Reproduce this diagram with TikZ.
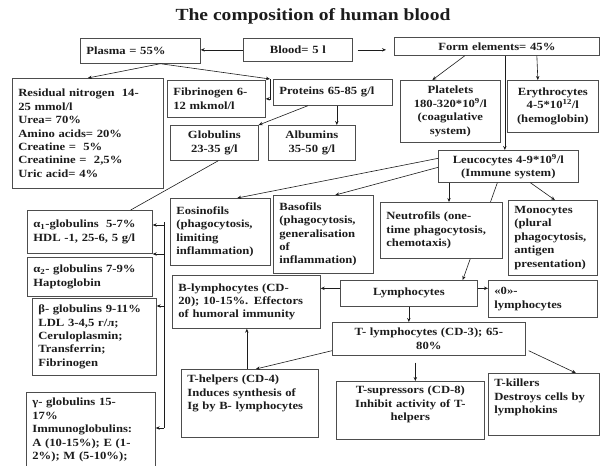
\documentclass[tikz,border=0pt]{standalone}
\usepackage{fontspec}
\setmainfont{Liberation Serif}[FakeStretch=1.15]
\usetikzlibrary{arrows.meta}
\definecolor{ink}{HTML}{1C1C1C}
\definecolor{frame}{HTML}{4D4D4D}
\newcommand{\bodyfont}{\fontsize{11}{13.4}\selectfont\bfseries}
\newcommand{\titlefont}{\fontsize{17}{19}\selectfont\bfseries}
\tikzset{
  every node/.style={font=\bodyfont,text=ink},
  cell/.style 2 args={draw=frame,line width=.7pt,fill=white,anchor=north west,
    inner xsep=6pt,inner ysep=3pt,align=left,text width=#1pt,minimum height=#2pt},
  title/.style={font=\titlefont},
  link/.style={draw=ink,line width=.6pt},
  arr/.style={link,-{Stealth[length=4pt,width=3.4pt]}}
}
\begin{document}
\begin{tikzpicture}[x=1pt,y=-1pt]
\useasboundingbox (0,0) rectangle (600,466);
\clip (0,0) rectangle (600,466);

\node[title] (head) at (313,16) {The composition of human blood};

% blood, plasma and form elements
\node[cell={108}{25}] (plasma) at (80,38) {Plasma = 55\%};
\node[cell={97}{23},align=center] (blood) at (243,38) {Blood= 5 l};
\node[cell={193}{18},align=center] (form) at (394,37) {Form elements= 45\%};

% plasma parts
\node[cell={139}{110}] (resid) at (12,78) {Residual nitrogen~ 14-\\25 mmol/l\\Urea= 70\%\\Amino acids= 20\%\\Creatine =~ 5\%\\Creatinine =~ 2,5\%\\Uric acid= 4\%};
\node[cell={86}{37}] (fibr) at (167,80) {Fibrinogen 6-\\12 mkmol/l};
\node[cell={107}{26}] (prot) at (273,79) {Proteins 65-85 g/l};
\node[cell={76}{35},align=center] (glob) at (170,125) {Globulins\\23-35 g/l};
\node[cell={75}{35},align=center] (alb) at (268,125) {Albumins\\35-50 g/l};

% cells
\node[cell={88}{62},align=center] (plat) at (400,80) {Platelets\\180-320*10\textsuperscript{9}/l\\(coagulative\\system)};
\node[cell={79}{52},align=center] (eryth) at (507,80) {Erythrocytes\\4-5*10\textsuperscript{12}/l\\(hemoglobin)};
\node[cell={128}{32},align=center] (leuc) at (438,150) {Leucocytes 4-9*10\textsuperscript{9}/l\\(Immune system)};

% globulin fractions
\node[cell={113}{43}] (ga1) at (27,210) {α\textsubscript{1}-globulins~ 5-7\%\\HDL -1, 25-6, 5 g/l};
\node[cell={113}{39}] (ga2) at (27,257) {α\textsubscript{2}- globulins 7-9\%\\Haptoglobin};
\node[cell={112}{77}] (gb) at (32,298) {β- globulins 9-11\%\\LDL 3-4,5 г/л;\\Ceruloplasmin;\\Transferrin;\\Fibrinogen};
\node[cell={117}{0},inner ysep=6pt,text depth=80pt] (gg) at (26,392) {γ- globulins 15-\\17\%\\Immunoglobulins:\\A (10-15\%); E (1-\\2\%); M (5-10\%);};

% leucocyte kinds
\node[cell={88}{67}] (eos) at (170,198) {Eosinofils\\(phagocytosis,\\limiting\\inflammation)};
\node[cell={88}{78}] (baso) at (273,195) {Basofils\\(phagocytosis,\\generalisation\\of\\inflammation)};
\node[cell={77}{75}] (mono) at (508,200) {Monocytes\\(plural\\phagocytosis,\\antigen\\presentation)};
\node[cell={125}{26},align=center] (lymph) at (340,280) {Lymphocytes};
\node[cell={97}{37}] (zero) at (488,280) {«0»-\\lymphocytes};

% runs behind the neutrofils box
\draw[arr] ([xshift=-11pt]leuc.south) -- ([xshift=-15pt]lymph.north east);
\node[cell={110}{56}] (neut) at (380,202) {Neutrofils (one-\\time phagocytosis,\\chemotaxis)};

% lymphocytes
\node[cell={136}{53}] (blym) at (172,275) {B-lymphocytes (CD-\\20); 10-15\%. Effectors\\of humoral immunity};
\node[cell={181}{33},align=center] (tlym) at (332,322) {T- lymphocytes (CD-3); 65-\\80\%};
\node[cell={125}{0},inner ysep=6pt,text depth=48pt] (thelp) at (181,369) {T-helpers (CD-4)\\Induces synthesis of\\Ig by B- lymphocytes};
\node[cell={136}{0},inner ysep=5pt,text depth=40pt,align=center] (tsup) at (336,381) {T-supressors (CD-8)\\Inhibit activity of T-\\helpers};
\node[cell={99}{0},inner ysep=6pt,text depth=42pt] (tkill) at (488,373) {T-killers\\Destroys cells by\\lymphokins};

% top level
\draw[arr] (blood.west) -- (plasma.east |- blood.west);
\draw[arr,shorten <=5pt,shorten >=8pt] (blood.east) -- (form.west |- blood.east);

% plasma branch
\coordinate (pfork) at ([xshift=-3pt]prot.north west);
\draw[arr] ([xshift=20pt]plasma.south) -- (resid.north);
\draw[arr] ([xshift=20pt]plasma.south) -- (pfork);
\draw[arr] (pfork) |- (fibr.east);
\draw[arr] ([xshift=-25pt]prot.south) -- (glob.north east);
\draw[arr] ([xshift=4pt]prot.south) -- ([xshift=4pt]prot.south |- alb.north);
\draw[link] ([xshift=4pt]glob.south) -- ([xshift=-22pt]ga1.north east);

% globulin spine
\coordinate (spinetop) at (164,222);
\coordinate (spinebot) at (164,428);
\draw[link] (spinetop) -- (spinebot);
\foreach \y/\target in {225/ga1,254/ga2,306/gb,428/gg}{
  \coordinate (spine) at (164,\y);
  \draw[arr] (spine) -- (spine -| \target.east);
}

% form elements branch
\draw[arr] ([xshift=-32pt]form.south) -- ([xshift=-18pt]plat.north);
\draw[arr] ([xshift=40pt]form.south) -- ([xshift=-15pt]eryth.north);
\draw[arr] ([xshift=8pt]form.south) -- ([xshift=8pt]form.south |- leuc.north);

% leucocytes branch
\draw[arr] ([yshift=8pt]leuc.west) -- ([xshift=17pt]eos.north);
\draw[arr] ([yshift=-1pt]leuc.west) -- ([xshift=12pt]baso.north);
\draw[arr] ([xshift=11pt]leuc.south west) -- ([xshift=11pt]leuc.south west |- neut.north);
\draw[arr] ([xshift=22pt]leuc.south) -- ([xshift=2pt]mono.north);

% lymphocytes branch
\draw[arr] ([yshift=5pt]lymph.west) -- ([yshift=5pt]lymph.west -| blym.east);
\draw[arr] ([yshift=5pt]lymph.east) -- ([yshift=5pt]lymph.east -| zero.west);
\draw[arr] (lymph.south) -- (lymph.south |- tlym.north);
\draw[arr] ([yshift=5pt]tlym.south west) -- ([xshift=6pt]thelp.north);
\draw[arr] ([xshift=-3pt]thelp.north) -- ([xshift=-3pt]thelp.north |- blym.south);
\draw[arr,shorten <=7pt] ([xshift=5pt]tsup.north |- tlym.south) -- ([xshift=5pt]tsup.north);
\draw[arr] ([xshift=3pt,yshift=5pt]tlym.south east) -- ([xshift=32pt]tkill.north);
\end{tikzpicture}
\end{document}
